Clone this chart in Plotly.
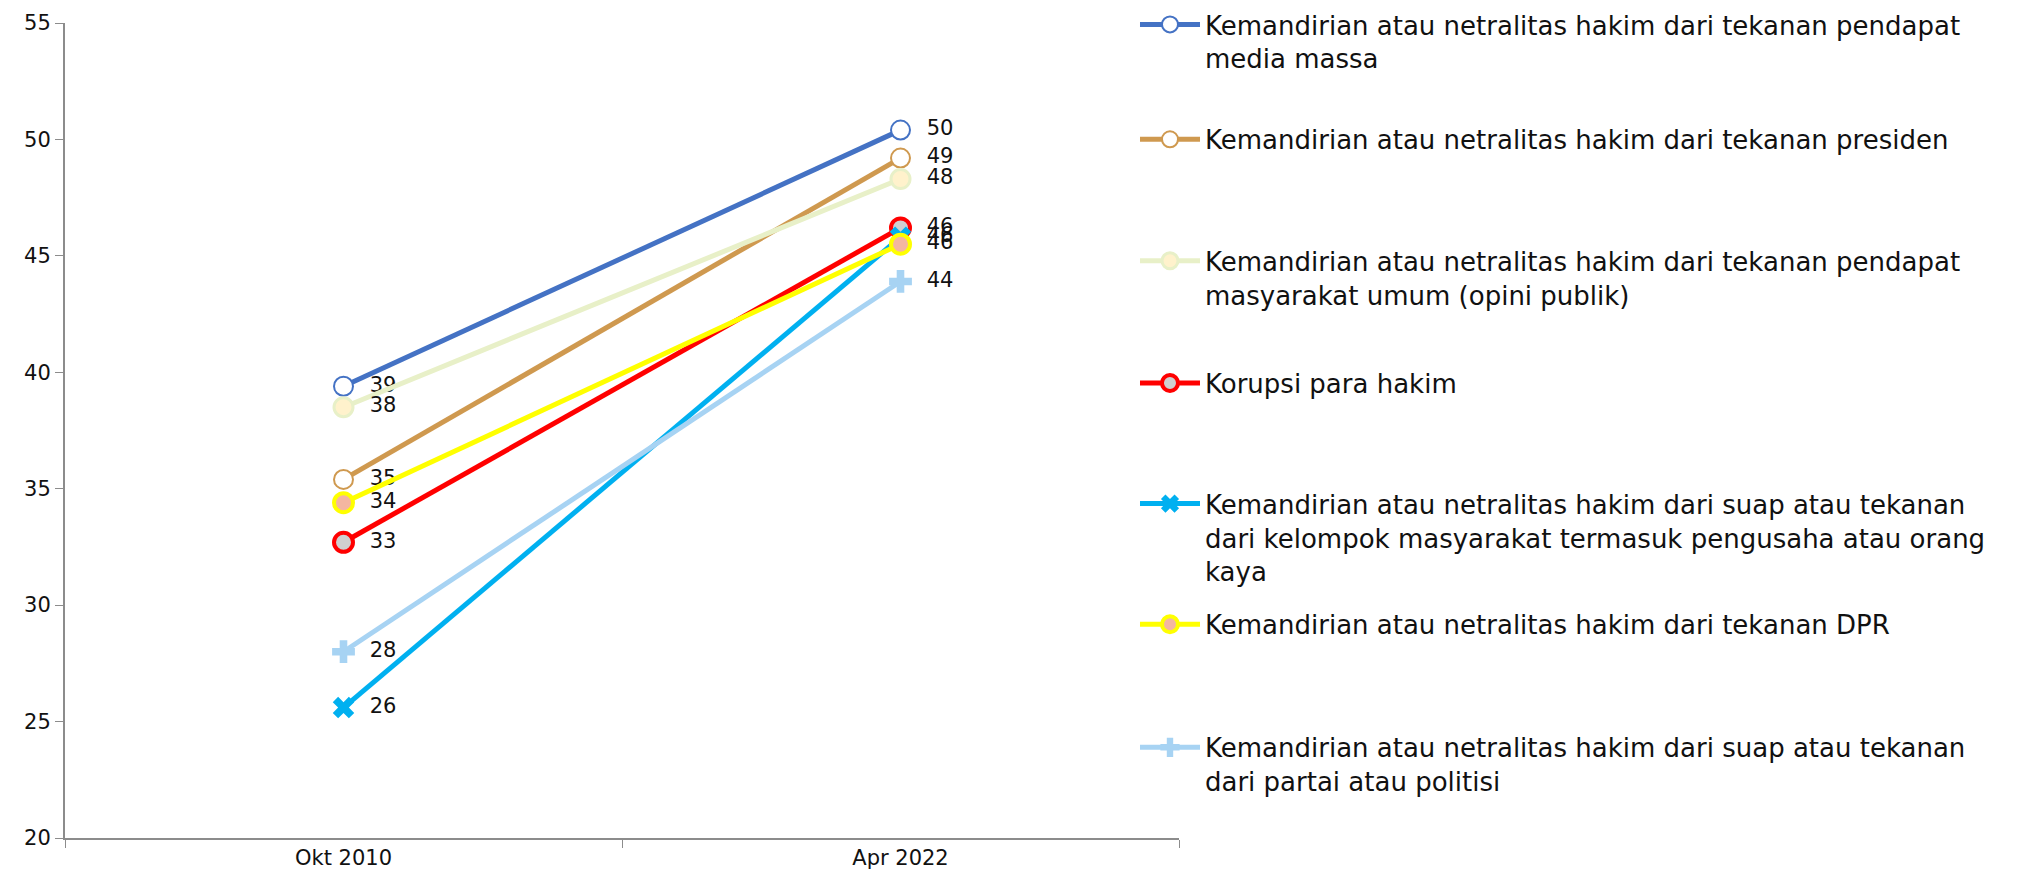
import plotly.graph_objects as go

# data
periods = ["Okt 2010", "Apr 2022"]
names = [
    "Kemandirian atau netralitas hakim dari tekanan pendapat<br>media massa",
    "Kemandirian atau netralitas hakim dari tekanan presiden",
    "Kemandirian atau netralitas hakim dari tekanan pendapat<br>masyarakat umum (opini publik)",
    "Korupsi para hakim",
    "Kemandirian atau netralitas hakim dari suap atau tekanan<br>dari kelompok masyarakat termasuk pengusaha atau orang<br>kaya",
    "Kemandirian atau netralitas hakim dari tekanan DPR",
    "Kemandirian atau netralitas hakim dari suap atau tekanan<br>dari partai atau politisi",
]
media_massa = [39.4, 50.4]
presiden = [35.4, 49.2]
opini_publik = [38.5, 48.3]
korupsi = [32.7, 46.2]
pengusaha = [25.6, 45.8]
dpr = [34.4, 45.5]
partai = [28.0, 43.9]
series = [media_massa, presiden, opini_publik, korupsi, pengusaha, dpr, partai]

# styles
line_colors = ["#4472C4", "#CF994F", "#E8F0C8", "#FF0000", "#00B0F0", "#FFFF00", "#A7D3F3"]
fill_colors = ["#FFFFFF", "#FFFFFF", "#FFF2CC", "#D0D0D0", "#00B0F0", "#F4B6A0", "#A7D3F3"]
border_colors = ["#4472C4", "#CF994F", "#E8F0C8", "#FF0000", "#00B0F0", "#FFFF00", "#A7D3F3"]
symbols = ["circle", "circle", "circle", "circle", "x", "circle", "cross"]
border_w = [2, 2, 3, 4, 0, 4, 0]
legend_top = [1.027, 0.886, 0.737, 0.587, 0.439, 0.291, 0.140]

font = "DejaVu Sans"
fig = go.Figure()
for i, vals in enumerate(series):
    fig.add_trace(go.Scatter(
        x=periods, y=vals, name=names[i], mode="lines+markers+text",
        text=["  " + str(round(v)) for v in vals], textposition="middle right",
        textfont=dict(size=21, color="#111111", family=font),
        line=dict(color=line_colors[i], width=5),
        marker=dict(symbol=symbols[i], size=19, color=fill_colors[i],
                    line=dict(color=border_colors[i], width=border_w[i])),
        legend="legend" if i == 0 else "legend%d" % (i + 1),
    ))

layout = dict(
    width=2036, height=886, showlegend=True,
    margin=dict(l=57, r=865, t=15, b=56, autoexpand=False),
    paper_bgcolor="white", plot_bgcolor="white",
    font=dict(family=font, size=21, color="#111111"),
    xaxis=dict(range=[-0.5, 1.5], showline=True, linecolor="#8C8C8C", linewidth=2,
               ticks="outside", tickson="boundaries", ticklen=8, tickcolor="#8C8C8C",
               showgrid=False, automargin=False, tickfont=dict(size=21)),
    yaxis=dict(range=[20, 55], dtick=5, showline=True, linecolor="#8C8C8C", linewidth=2,
               ticks="outside", ticklen=8, tickcolor="#8C8C8C", showgrid=False,
               zeroline=False, automargin=False, tickfont=dict(size=21)),
)
for i in range(len(series)):
    key = "legend" if i == 0 else "legend%d" % (i + 1)
    layout[key] = dict(x=0.9605, xanchor="left", y=legend_top[i], yanchor="top",
                       valign="top", itemwidth=60, bgcolor="rgba(0,0,0,0)",
                       font=dict(size=26, family=font, color="#111111"))
fig.update_layout(**layout)

fig.write_html("out.html")
